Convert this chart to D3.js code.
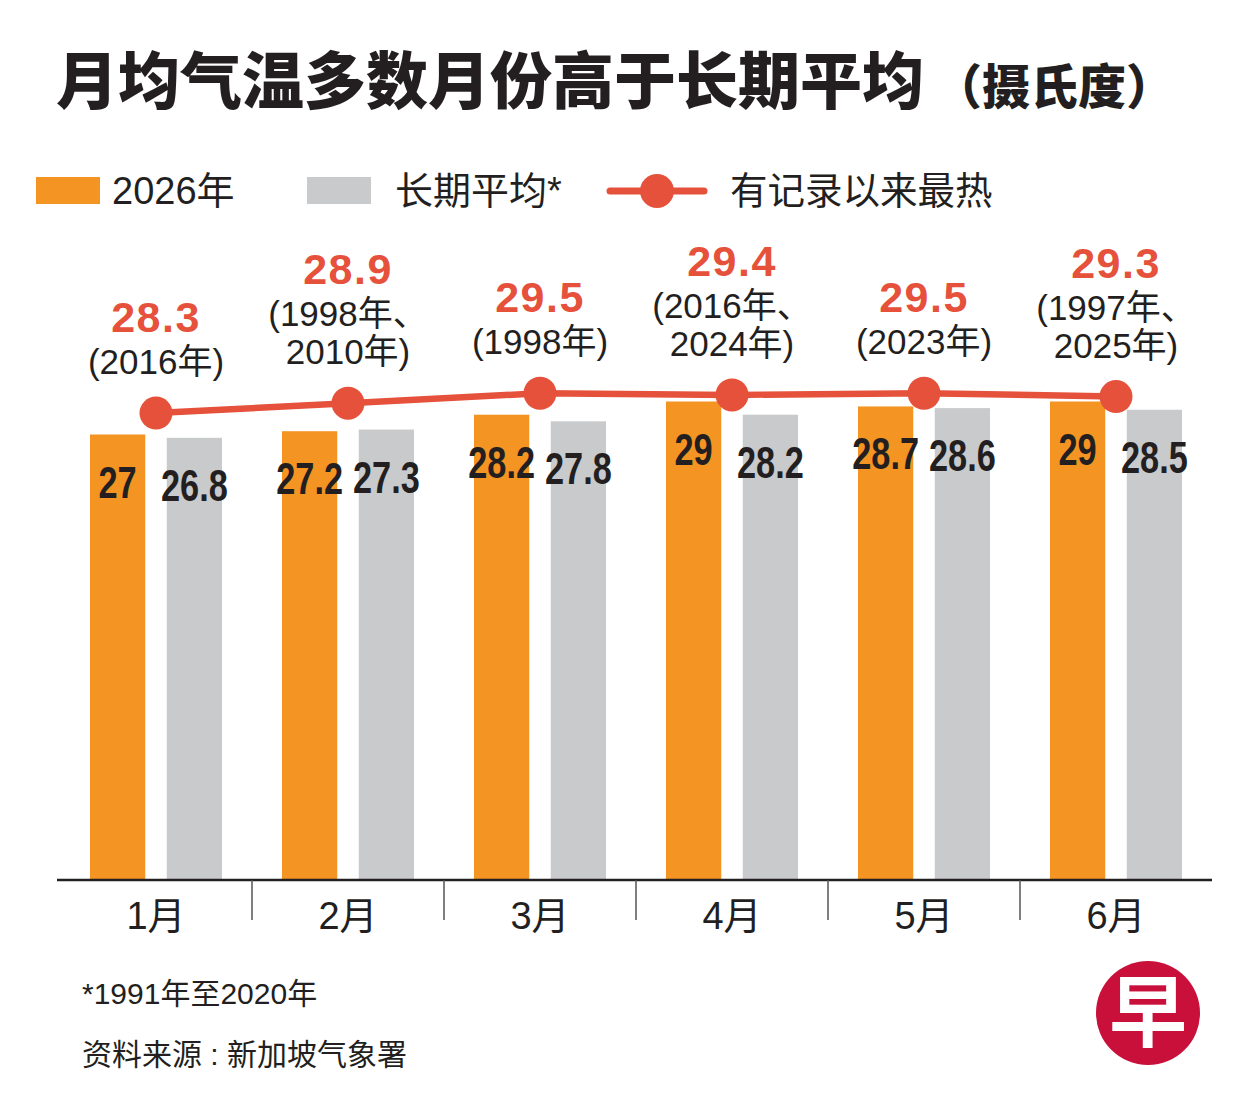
<!DOCTYPE html>
<html>
<head>
<meta charset="utf-8" />
<title>月均气温多数月份高于长期平均</title>
<script src="https://d3js.org/d3.v7.min.js"></script>
<style>
  body { margin: 0; background: #fff; }
  text { font-family: "Liberation Sans", "Noto Sans CJK SC", sans-serif; fill: #231f20; }
  .cjk { font-family: "Liberation Sans", "Noto Sans CJK SC", sans-serif; }
  .title { font-family: "Noto Sans CJK SC", sans-serif; font-weight: 900; }
  .val { font-family: "Liberation Sans", sans-serif; font-weight: bold; }
  .rec { font-weight: bold; fill: #e5513a; }
</style>
</head>
<body>
<svg id="chart"></svg>
<script>
// data
var months = ["1月", "2月", "3月", "4月", "5月", "6月"];
var temp2026 = [27, 27.2, 28.2, 29, 28.7, 29];
var longAvg = [26.8, 27.3, 27.8, 28.2, 28.6, 28.5];
var recordHot = [28.3, 28.9, 29.5, 29.4, 29.5, 29.3];
var recordYears = [
  ["(2016年)"],
  ["(1998年、", "2010年)"],
  ["(1998年)"],
  ["(2016年、", "2024年)"],
  ["(2023年)"],
  ["(1997年、", "2025年)"]
];
var seriesKeys = ["cur", "avg"];
var seriesColors = {cur: "#f39423", avg: "#c9cacc"};
var lineColor = "#e5513a";

var width = 1251, height = 1116;
var svg = d3.select("#chart").attr("width", width).attr("height", height);

// title
var title = svg.append("text").attr("x", 56).attr("y", 104);
title.append("tspan").attr("class", "title").style("font-size", "62px").text("月均气温多数月份高于长期平均");
title.append("tspan").attr("class", "title").style("font-size", "48px").attr("dx", 10).text("（摄氏度）");

// legend
var lg = svg.append("g");
lg.append("rect").attr("x", 36).attr("y", 177).attr("width", 64).attr("height", 27).attr("fill", seriesColors.cur);
lg.append("text").attr("x", 112).attr("y", 204).style("font-size", "38px").text("2026年");
lg.append("rect").attr("x", 307).attr("y", 177).attr("width", 64).attr("height", 27).attr("fill", seriesColors.avg);
lg.append("text").attr("x", 395).attr("y", 204).style("font-size", "38px").text("长期平均*");
lg.append("line").attr("x1", 610).attr("x2", 704).attr("y1", 191).attr("y2", 191)
  .attr("stroke", lineColor).attr("stroke-width", 7).attr("stroke-linecap", "round");
lg.append("circle").attr("cx", 657).attr("cy", 191).attr("r", 17).attr("fill", lineColor);
lg.append("text").attr("x", 730).attr("y", 204).style("font-size", "37.5px").text("有记录以来最热");

// scales
var x0 = d3.scaleBand().domain(months).range([60, 1212]).padding(0);
var x1 = d3.scaleBand().domain(seriesKeys).range([30, 162]).paddingInner(0.28);
var y = d3.scaleLinear().domain([0, 30]).range([880, 385]);

var rows = months.map(function(m, i) {
  return {month: m, cur: temp2026[i], avg: longAvg[i], rec: recordHot[i], years: recordYears[i]};
});

// bars
var groups = svg.append("g").selectAll("g").data(rows).enter().append("g")
  .attr("transform", function(d) { return "translate(" + x0(d.month) + ",0)"; });

groups.selectAll("rect").data(function(d) {
    return seriesKeys.map(function(k) { return {key: k, value: d[k]}; });
  }).enter().append("rect")
  .attr("x", function(d) { return x1(d.key); })
  .attr("width", x1.bandwidth())
  .attr("y", function(d) { return y(d.value); })
  .attr("height", function(d) { return y(0) - y(d.value); })
  .attr("fill", function(d) { return seriesColors[d.key]; });

// value labels, squeezed to look like a condensed face
groups.selectAll(".val").data(function(d) {
    return seriesKeys.map(function(k) { return {key: k, value: d[k]}; });
  }).enter().append("text")
  .attr("class", "val")
  .attr("text-anchor", "middle")
  .attr("transform", function(d) {
    return "translate(" + (x1(d.key) + x1.bandwidth() / 2) + "," + (y(d.value) + 63) + ") scale(0.78,1)";
  })
  .style("font-size", "44px")
  .text(function(d) { return d.value; });

// x axis
var xAxis = d3.axisBottom(x0).tickSize(0).tickPadding(22);
var ax = svg.append("g").attr("transform", "translate(0," + y(0) + ")").call(xAxis);
ax.select(".domain").attr("stroke", "#231f20").attr("stroke-width", 2.5).attr("d", "M57,0H1212");
ax.selectAll(".tick text").attr("class", "cjk").style("font-size", "38px").attr("fill", "#231f20")
  .attr("dy", "0.71em");
ax.selectAll(".sep").data(months.slice(1)).enter().append("line")
  .attr("x1", function(d) { return x0(d); }).attr("x2", function(d) { return x0(d); })
  .attr("y1", 0).attr("y2", 40).attr("stroke", "#555").attr("stroke-width", 1.5);

// record line
var cx = function(d) { return x0(d.month) + x0.bandwidth() / 2; };
var line = d3.line().x(cx).y(function(d) { return y(d.rec); });
svg.append("path").datum(rows).attr("d", line)
  .attr("fill", "none").attr("stroke", lineColor).attr("stroke-width", 6.5);
svg.append("g").selectAll("circle").data(rows).enter().append("circle")
  .attr("cx", cx).attr("cy", function(d) { return y(d.rec); })
  .attr("r", 16.5).attr("fill", lineColor);

// record labels
var recLab = svg.append("g").selectAll("g").data(rows).enter().append("g");
recLab.each(function(d) {
  var g = d3.select(this);
  var base = y(d.rec) - 39;
  var n = d.years.length;
  d.years.forEach(function(t, i) {
    g.append("text").attr("class", "cjk").attr("text-anchor", "middle")
      .attr("x", cx(d)).attr("y", base - (n - 1 - i) * 38)
      .style("font-size", "35px").text(t);
  });
  g.append("text").attr("class", "rec").attr("text-anchor", "middle")
    .attr("x", cx(d)).attr("y", base - (n - 1) * 38 - 42)
    .style("font-size", "43px").style("letter-spacing", "1.5px")
    .text(d.rec);
});

// footnotes
svg.append("text").attr("x", 82).attr("y", 1004).style("font-size", "30px").text("*1991年至2020年");
svg.append("text").attr("x", 82).attr("y", 1065).style("font-size", "30px").text("资料来源 : 新加坡气象署");

// logo
var logo = svg.append("g").attr("transform", "translate(1148,1013)");
logo.append("circle").attr("r", 52).attr("fill", "#c8103a");
logo.append("text").attr("text-anchor", "middle").attr("y", 28)
  .style("font-family", "'Noto Sans CJK SC', sans-serif").style("font-weight", 700)
  .style("font-size", "78px").style("fill", "#fff").text("早");
</script>
</body>
</html>
